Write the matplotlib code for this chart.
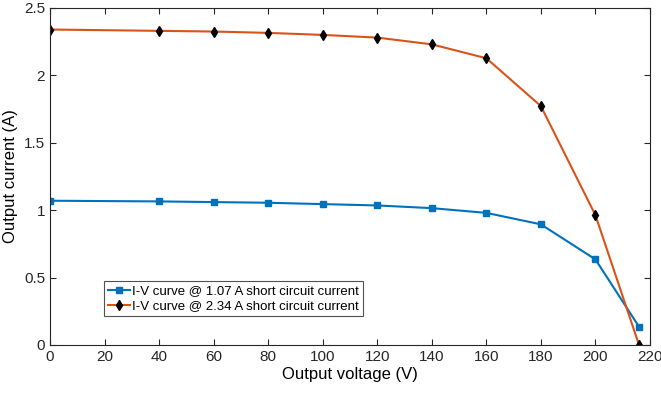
import matplotlib
matplotlib.use("Agg")
import matplotlib.pyplot as plt

voltage = [0, 40, 60, 80, 100, 120, 140, 160, 180, 200, 216]
current_107 = [1.07, 1.065, 1.06, 1.055, 1.045, 1.035, 1.015, 0.98, 0.895, 0.635, 0.135]
current_234 = [2.34, 2.33, 2.325, 2.315, 2.30, 2.28, 2.23, 2.127, 1.772, 0.963, 0.0]
labels = ["I-V curve @ 1.07 A short circuit current",
          "I-V curve @ 2.34 A short circuit current"]
xticks = list(range(0, 221, 20))
yticks = [0, 0.5, 1, 1.5, 2, 2.5]

plt.rcParams['font.family'] = ['Liberation Sans', 'DejaVu Sans']

fig = plt.figure(figsize=(6.61, 3.97), dpi=100)
ax = fig.add_axes([0.0756, 0.131, 0.9077, 0.849])

ax.plot(voltage, current_107, color='#0072BD', lw=1.5, marker='s', ms=4,
        mfc='#0072BD', mec='#0072BD', label=labels[0])
ax.plot(voltage, current_234, color='#D95319', lw=1.5, marker='d', ms=5,
        mfc='black', mec='black', label=labels[1])

ax.set_xlim(0, 220)
ax.set_ylim(0, 2.5)
ax.set_xticks(xticks)
ax.set_yticks(yticks)
ax.set_yticklabels(['0', '0.5', '1', '1.5', '2', '2.5'])
ax.tick_params(direction='in', top=True, right=True, labelsize=11,
               colors='#262626', length=4, width=0.8)
for s in ax.spines.values():
    s.set_color('#262626')
    s.set_linewidth(0.8)
ax.set_xlabel('Output voltage (V)', fontsize=12, labelpad=2)
ax.set_ylabel('Output current (A)', fontsize=12, labelpad=4)

leg = ax.legend(loc='lower left', bbox_to_anchor=(0.09, 0.085), fontsize=9.5,
                frameon=True, fancybox=False, handlelength=1.7,
                handletextpad=0.1, borderpad=0.3, labelspacing=0.2,
                borderaxespad=0)
leg.get_frame().set_edgecolor('#262626')
leg.get_frame().set_linewidth(0.8)

fig.savefig('out.png', dpi=100)
